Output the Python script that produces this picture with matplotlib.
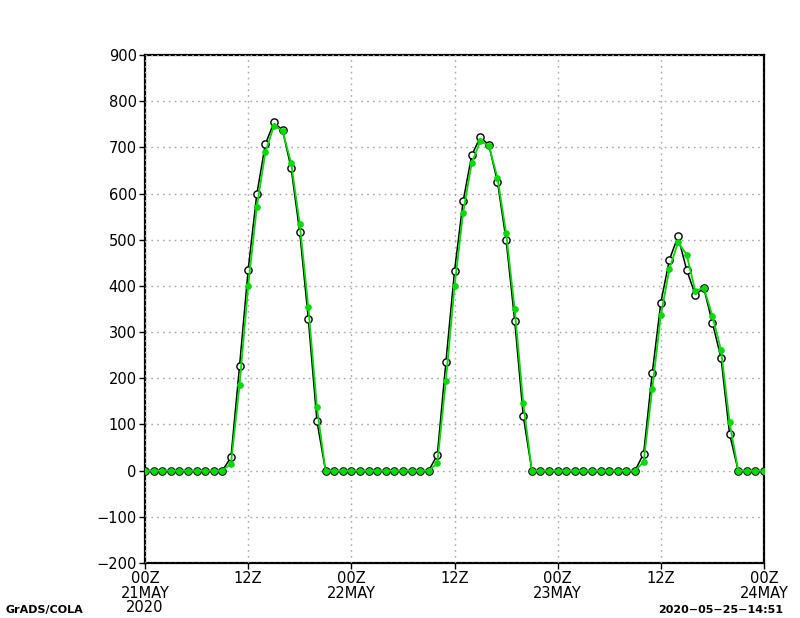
import numpy as np
import matplotlib.pyplot as plt

# hourly values, 00Z 21MAY 2020 .. 00Z 24MAY 2020
hours = list(range(73))

obs = ([0] * 10 + [29, 227, 435, 598, 707, 754, 737, 655, 516, 328, 107] +
       [0] * 13 + [34, 235, 432, 583, 683, 722, 705, 625, 500, 325, 118] +
       [0] * 13 + [37, 211, 364, 457, 507, 435, 381, 395, 320, 244, 79] +
       [0] * 4)

fcst = ([0] * 10 + [15, 186, 399, 570, 689, 747, 736, 666, 534, 354, 137] +
        [0] * 13 + [16, 195, 399, 558, 666, 713, 704, 634, 515, 350, 146] +
        [0] * 13 + [19, 177, 336, 437, 494, 468, 389, 396, 335, 261, 105] +
        [0] * 4)

xtick_pos = [0, 12, 24, 36, 48, 60, 72]
xtick_labels = ['00Z\n21MAY\n2020', '12Z', '00Z\n22MAY', '12Z',
                '00Z\n23MAY', '12Z', '00Z\n24MAY']
yticks = list(range(-200, 1000, 100))

fig = plt.figure(figsize=(8, 6.18), dpi=100)
ax = fig.add_axes([145 / 800, 1 - 563 / 618, 619 / 800, 508 / 618])

ax.plot(hours, obs, color='black', lw=1.1, marker='o', ms=5.2,
        mfc='white', mec='black', mew=1.0, zorder=3)
ax.plot(hours, fcst, color='#00dc00', lw=1.3, marker='o', ms=3.8,
        mfc='#00dc00', mec='#00dc00', zorder=4)

ax.set_xlim(0, 72)
ax.set_ylim(-200, 900)
ax.set_xticks(xtick_pos)
ax.set_xticklabels(xtick_labels, fontsize=10.5, linespacing=0.95)
ax.set_yticks(yticks)
ax.set_yticklabels([str(v).replace('-', '\u2212') for v in yticks], fontsize=10.5)
ax.tick_params(direction='out', length=4, width=1, pad=2)

for s in ax.spines.values():
    s.set_color('black')
    s.set_linewidth(1.6)
    s.set_zorder(0.5)
ax.grid(True, color='#a8a8a8', linestyle=(0, (1.2, 3)), lw=1.0, zorder=1)
ax.set_axisbelow(False)

fig.text(5 / 800, 1 - 610 / 618, 'GrADS/COLA', fontsize=8, weight='bold',
         va='center', ha='left')
fig.text(783 / 800, 1 - 610 / 618, '2020\u221205\u221225\u221214:51', fontsize=8,
         weight='bold', va='center', ha='right')

fig.savefig('out.png', dpi=100)
